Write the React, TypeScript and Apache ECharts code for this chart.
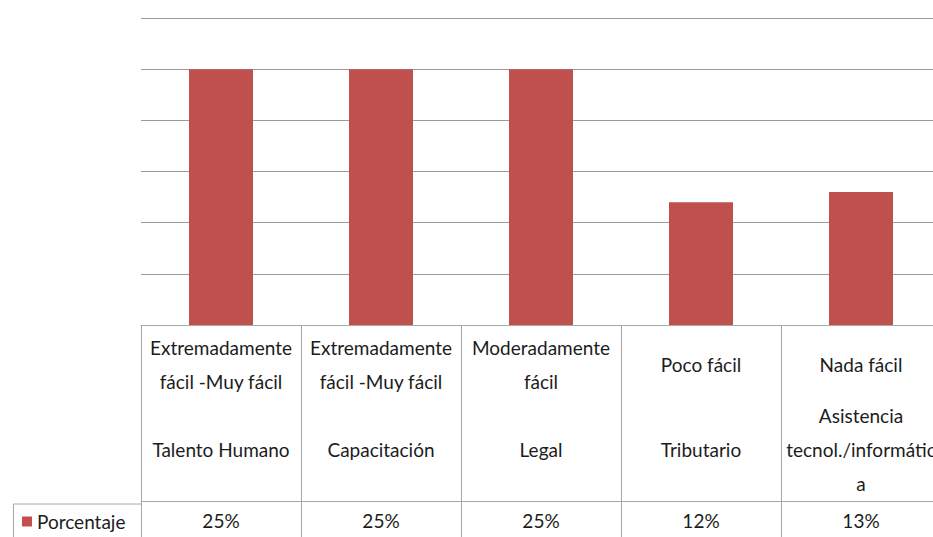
import React, { useEffect, useRef } from "react";
import * as echarts from "echarts";

const ratingLabels = [
  "Extremadamente\nfácil -Muy fácil",
  "Extremadamente\nfácil -Muy fácil",
  "Moderadamente\nfácil",
  "Poco fácil",
  "Nada fácil",
];
const areaLabels = [
  "Talento Humano",
  "Capacitación",
  "Legal",
  "Tributario",
  "Asistencia\ntecnol./informátic\na",
];
const seriesName = "Porcentaje";
const values = [25, 25, 25, 12, 13];
const yMin = 0;
const yMax = 30;
const yStep = 5;

const FONT = "Lato, 'Noto Sans', sans-serif";
const BAR = "#c0504d";
const GRID = "#9a9a9a";
const TABLE = "#a8a8a8";
const TEXT = "#1c1c1c";

function buildLabel(i: number): string {
  const r = ratingLabels[i].split("\n");
  const a = areaLabels[i].split("\n");
  const lines: string[] = [];
  if (r.length === 1) lines.push(`{d|${r[0]}}`);
  else r.forEach((s) => lines.push(`{t|${s}}`));
  if (a.length < 3) lines.push("{t|}");
  a.forEach((s) => lines.push(`{t|${s}}`));
  return lines.join("\n");
}

export default function App() {
  const ref = useRef<HTMLDivElement>(null);
  useEffect(() => {
    if (!ref.current) return;
    const chart = echarts.init(ref.current, null, { renderer: "svg" });
    const cats = ratingLabels.map((_, i) => String(i));
    chart.setOption({
      animation: false,
      backgroundColor: "#ffffff",
      grid: { left: 141, right: 0, top: 18, bottom: 209, containLabel: false },
      legend: {
        data: [seriesName],
        left: 22,
        top: 512,
        padding: 0,
        icon: "rect",
        itemWidth: 10,
        itemHeight: 10,
        itemGap: 5,
        textStyle: { fontFamily: FONT, fontSize: 19, color: TEXT },
      },
      xAxis: [
        {
          type: "category",
          data: cats,
          position: "bottom",
          axisLine: { show: true, lineStyle: { color: TABLE, width: 1 } },
          axisTick: {
            show: true,
            inside: false,
            length: 215,
            lineStyle: { color: TABLE, width: 1 },
          },
          axisLabel: {
            interval: 0,
            margin: 5,
            formatter: (_v: string, idx: number) => buildLabel(idx),
            rich: {
              t: {
                fontFamily: FONT,
                fontSize: 19,
                lineHeight: 34,
                color: TEXT,
                align: "center",
              },
              d: {
                fontFamily: FONT,
                fontSize: 19,
                lineHeight: 68,
                color: TEXT,
                align: "center",
              },
            },
          },
          splitLine: { show: false },
        },
        {
          type: "category",
          data: values.map((v) => `${v}%`),
          position: "bottom",
          offset: 176,
          axisLine: { show: true, lineStyle: { color: TABLE, width: 1 } },
          axisTick: { show: false },
          axisLabel: {
            interval: 0,
            margin: 2,
            fontFamily: FONT,
            fontSize: 19,
            lineHeight: 34,
            color: TEXT,
          },
        },
      ],
      yAxis: {
        type: "value",
        min: yMin,
        max: yMax,
        interval: yStep,
        axisLabel: { show: false },
        axisLine: { show: false },
        axisTick: { show: false },
        splitLine: { show: true, lineStyle: { color: GRID, width: 1 } },
      },
      series: [
        {
          name: seriesName,
          type: "bar",
          xAxisIndex: 0,
          data: values,
          barWidth: "40%",
          itemStyle: { color: BAR },
        },
      ],
      graphic: [
        {
          type: "line",
          shape: { x1: 13.5, y1: 504, x2: 141, y2: 504 },
          style: { stroke: TABLE, lineWidth: 1 },
        },
        {
          type: "line",
          shape: { x1: 13.5, y1: 504, x2: 13.5, y2: 537 },
          style: { stroke: TABLE, lineWidth: 1 },
        },
      ],
    });
    return () => chart.dispose();
  }, []);
  return (
    <div
      style={{
        position: "fixed",
        left: 0,
        top: 0,
        width: 933,
        height: 537,
        overflow: "hidden",
        background: "#ffffff",
      }}
    >
      <div ref={ref} style={{ width: 941, height: 537 }} />
    </div>
  );
}
